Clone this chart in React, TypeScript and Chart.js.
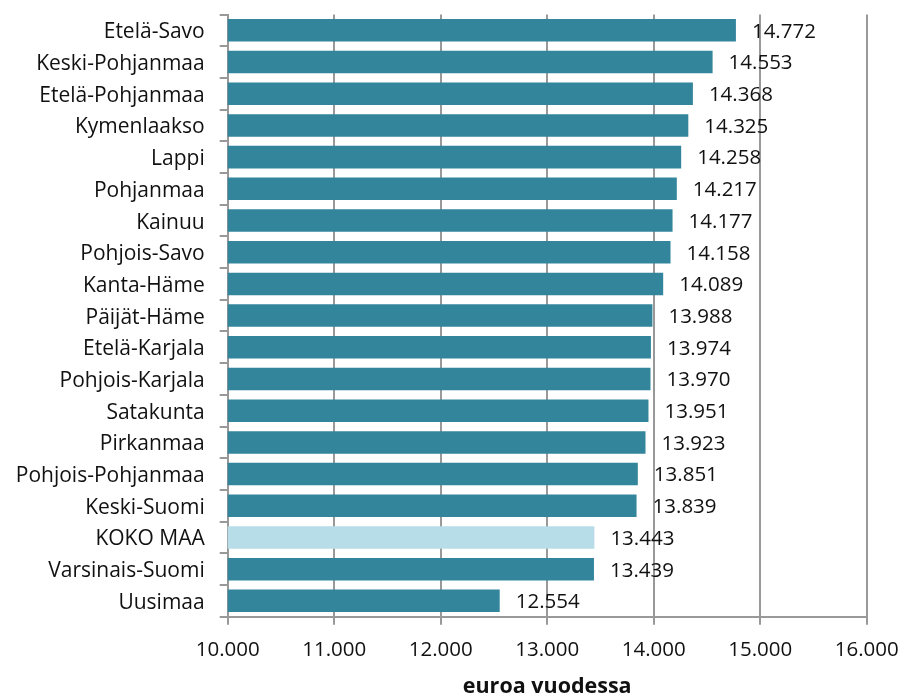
import React, { useEffect, useRef } from "react";
import { Chart, registerables } from "chart.js";

Chart.register(...registerables);

const regions = [
  "Etelä-Savo",
  "Keski-Pohjanmaa",
  "Etelä-Pohjanmaa",
  "Kymenlaakso",
  "Lappi",
  "Pohjanmaa",
  "Kainuu",
  "Pohjois-Savo",
  "Kanta-Häme",
  "Päijät-Häme",
  "Etelä-Karjala",
  "Pohjois-Karjala",
  "Satakunta",
  "Pirkanmaa",
  "Pohjois-Pohjanmaa",
  "Keski-Suomi",
  "KOKO MAA",
  "Varsinais-Suomi",
  "Uusimaa",
];

const values = [
  14772, 14553, 14368, 14325, 14258, 14217, 14177, 14158, 14089, 13988, 13974,
  13970, 13951, 13923, 13851, 13839, 13443, 13439, 12554,
];

const highlight = "KOKO MAA";
const axisTitle = "euroa vuodessa";
const xMin = 10000;
const xMax = 16000;
const xStep = 1000;

const MAIN = "#33859B";
const LIGHT = "#B7DDE8";
const GRID = "#999999";
const TEXT = "#111111";
const FONT = "'Open Sans', 'Noto Sans', sans-serif";

function fmt(v: number): string {
  const s = Math.round(v).toString();
  return s.replace(/\B(?=(\d{3})+(?!\d))/g, ".");
}

const labelPlugin = {
  id: "barValueLabels",
  afterDatasetsDraw(chart: any) {
    const ctx = chart.ctx;
    const meta = chart.getDatasetMeta(0);
    ctx.save();
    ctx.font = `20.5px ${FONT}`;
    ctx.fillStyle = TEXT;
    ctx.textAlign = "left";
    ctx.textBaseline = "middle";
    meta.data.forEach((bar: any, i: number) => {
      const v = chart.data.datasets[0].data[i];
      ctx.fillText(fmt(v), bar.x + 16, bar.y + 1.5);
    });
    ctx.restore();
  },
};

function zeroPad(s: any) {
  s.paddingTop = 0;
  s.paddingBottom = 0;
  s.paddingLeft = 0;
  s.paddingRight = 0;
}

export default function App() {
  const ref = useRef<HTMLCanvasElement | null>(null);
  useEffect(() => {
    if (!ref.current) return;
    const chart = new Chart(ref.current, {
      type: "bar",
      data: {
        labels: regions,
        datasets: [
          {
            data: values,
            backgroundColor: regions.map((r) => (r === highlight ? LIGHT : MAIN)),
            borderWidth: 0,
            barPercentage: 0.71,
            categoryPercentage: 1,
          },
        ],
      },
      options: {
        indexAxis: "y",
        animation: false,
        responsive: true,
        maintainAspectRatio: false,
        layout: { padding: { top: 14.5, right: 34.3, left: 0, bottom: 0 } },
        plugins: {
          legend: { display: false },
          tooltip: { enabled: false },
        },
        scales: {
          x: {
            min: xMin,
            max: xMax,
            afterFit: (s: any) => {
              s.height = 78.3;
              zeroPad(s);
            },
            ticks: {
              stepSize: xStep,
              callback: (v: any) => fmt(Number(v)),
              color: TEXT,
              font: { family: FONT, size: 20.5 },
              padding: 13,
              maxRotation: 0,
            },
            grid: {
              color: GRID,
              lineWidth: 2,
              tickLength: 8,
            },
            border: { color: GRID, width: 2 },
            title: {
              display: true,
              text: axisTitle,
              color: TEXT,
              font: { family: FONT, size: 21.5, weight: "bold", lineHeight: 0.8 },
              padding: { top: 0, bottom: 0 },
            },
          },
          y: {
            afterFit: (s: any) => {
              s.width = 227.7;
              zeroPad(s);
            },
            ticks: {
              color: TEXT,
              font: { family: FONT, size: 21 },
              padding: 15,
              labelOffset: 2,
            },
            grid: {
              drawOnChartArea: false,
              color: GRID,
              lineWidth: 2,
              tickLength: 8,
            },
            border: { color: GRID, width: 2 },
          },
        },
      },
      plugins: [labelPlugin],
    });
    return () => chart.destroy();
  }, []);

  return (
    <div style={{ position: "fixed", left: 0, top: 0, width: 901, height: 695, background: "#fff" }}>
      <canvas ref={ref} />
    </div>
  );
}
